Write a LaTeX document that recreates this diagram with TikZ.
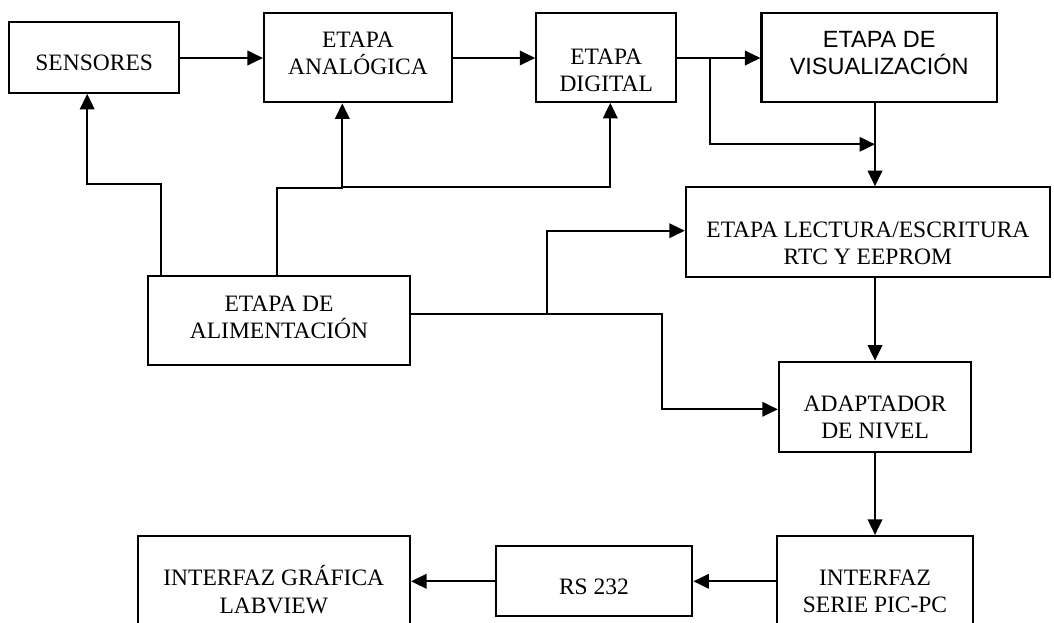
\documentclass[tikz,border=0pt]{standalone}
\usepackage{fontspec}
\setmainfont{Liberation Serif}
\newfontfamily\arialf{Liberation Sans}
\usetikzlibrary{arrows.meta}
% text placed in a box: #1 = downward shift of the text inside its box (pt)
\newcommand\bxtop[1]{\rule{0pt}{\dimexpr30pt+#1pt\relax}}
\newcommand\bxbot[1]{\rule[\dimexpr-14.44pt+#1pt\relax]{0pt}{\dimexpr14.44pt-#1pt\relax}}
\begin{document}
\begin{tikzpicture}[x=1pt,y=-1pt,
  box/.style={draw, line width=2.2pt, inner sep=0pt, align=center, font=\fontsize{23.5}{27.5}\selectfont},
  sansbox/.style={box, font=\fontsize{23.5}{27.5}\arialf},
  conn/.style={line width=2pt, -{Triangle[length=15.5pt,width=14.5pt]}}]
\useasboundingbox (0,0) rectangle (1054,622);
\fill[white] (0,0) rectangle (1054,622);

\node[box, minimum width=170pt, minimum height=70.4pt] (sens) at (94.2,57.5) {\bxtop{5}SENSORES\bxbot{5}};
\node[box, minimum width=187.7pt, minimum height=89pt] (analog) at (357.9,57.8) {\bxtop{-4.8}ETAPA\\ANALÓGICA\bxbot{-4.8}};
\node[box, minimum width=139.7pt, minimum height=88.4pt] (digital) at (606.2,57.5) {\bxtop{12.5}ETAPA\\DIGITAL\bxbot{12.5}};
\node[sansbox, minimum width=235.3pt, minimum height=88.4pt] (visual) at (879.2,57.5) {\bxtop{-4.5}ETAPA DE\\VISUALIZACIÓN\bxbot{-4.5}};
\node[box, minimum width=364pt, minimum height=89.4pt] (lect) at (867.9,232) {\bxtop{11}ETAPA LECTURA/ESCRITURA\\RTC Y EEPROM\bxbot{11}};
\node[box, minimum width=262pt, minimum height=89.3pt] (alim) at (279,320.4) {\bxtop{-3.3}ETAPA DE\\ALIMENTACIÓN\bxbot{-3.3}};
\node[box, minimum width=192.4pt, minimum height=90pt] (adapt) at (875.1,406.7) {\bxtop{10.3}ADAPTADOR\\DE NIVEL\bxbot{10.3}};
\node[box, minimum width=196pt, minimum height=114pt] (serie) at (875,593) {\bxtop{-2}INTERFAZ\\SERIE PIC-PC\bxbot{-2}};
\node[box, minimum width=196.7pt, minimum height=70pt] (rs) at (594,581) {\bxtop{6}RS 232\bxbot{6}};
\node[box, minimum width=272.3pt, minimum height=114pt] (labview) at (273.8,593) {\bxtop{-1.5}INTERFAZ GRÁFICA\\LABVIEW\bxbot{-1.5}};

\coordinate (vx) at (875,0);
\coordinate (hx) at (0,58);
\coordinate (hy) at (0,581.3);
\coordinate (b1) at (709.7,58);
\coordinate (b2) at (875,144.3);
\coordinate (p1) at (160.6,184.3);
\coordinate (p2) at (87.2,184.3);
\coordinate (p3) at (277.2,188.3);
\coordinate (p4) at (342.3,188.3);
\coordinate (p5) at (342.3,186.7);
\coordinate (p6) at (610.3,186.7);
\coordinate (q1) at (547.2,313.7);
\coordinate (q2) at (547.2,230.7);
\coordinate (q3) at (662,313.7);
\coordinate (q4) at (662,409.3);

\draw[conn] (sens.east |- hx) -- (analog.west |- hx);
\draw[conn] (analog.east |- hx) -- (digital.west |- hx);
\draw[conn] (digital.east |- hx) -- (visual.west |- hx);
\draw[conn] (b1) |- (b2);
\draw[conn] (visual.south -| vx) -- (lect.north -| vx);
\draw[conn] (lect.south -| vx) -- (adapt.north -| vx);
\draw[conn] (adapt.south -| vx) -- (serie.north -| vx);
\draw[conn] (serie.west |- hy) -- (rs.east |- hy);
\draw[conn] (rs.west |- hy) -- (labview.east |- hy);

\draw[conn] (alim.north -| p1) -- (p1) -- (p2) -- (sens.south -| p2);
\draw[conn] (alim.north -| p3) -- (p3) -- (p4) -- (analog.south -| p4);
\draw[conn] (p5) -- (p6) -- (digital.south -| p6);
\draw[conn] (alim.east |- q1) -- (q1) -- (q2) -- (lect.west |- q2);
\draw[conn] (q1) -- (q3) -- (q4) -- (adapt.west |- q4);
\end{tikzpicture}
\end{document}
